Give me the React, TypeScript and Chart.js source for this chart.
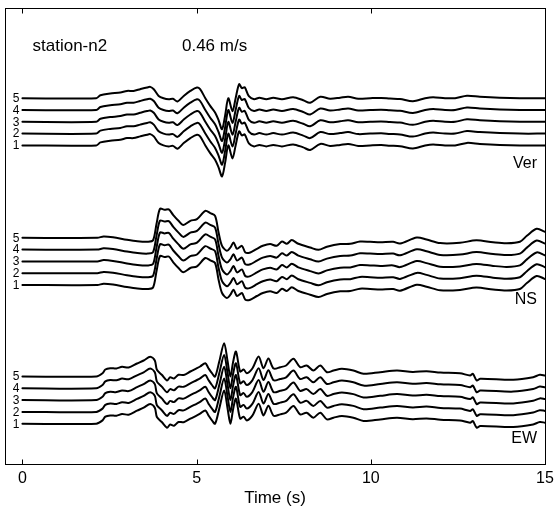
import { useEffect, useRef } from 'react';
import { Chart, registerables } from 'chart.js';

Chart.register(...registerables);

// ---- data ----
const X_TICKS = [0, 5, 10, 15];
const STATIONS = ['1', '2', '3', '4', '5'];
const COMPONENTS = ['Ver', 'NS', 'EW'];
const HEADER_STATION = 'station-n2';
const HEADER_SCALE = '0.46 m/s';
const X_TITLE = 'Time (s)';

// baseline of station 1 for each component, and the spacing between stations (arbitrary amplitude units)
const COMPONENT_BASE = [318.6, 179, 40.3];
const STATION_STEP = 11.8;

// [time (s), amplitude]
const VER_TRACE: [number, number][] = [
  [0, 0], [2.12, 0], [2.24, 3], [2.52, 4.7], [2.81, 5.7], [3.0, 7.3], [3.19, 7.3], [3.38, 9],
  [3.58, 10.7], [3.67, 11.3], [3.77, 9], [3.91, 2.3], [4.05, 0], [4.2, -1], [4.32, -0.5], [4.45, -3.3],
  [4.63, 2.3], [4.82, 7.3], [5.01, 10.7], [5.1, 9], [5.25, 0], [5.39, -7.7], [5.53, -14.3], [5.63, -22],
  [5.73, -31], [5.82, -17], [5.91, 0], [6.03, -13], [6.12, 0], [6.22, 14], [6.3, 10], [6.38, 11],
  [6.5, 2], [6.65, -1], [6.8, 0.5], [7.0, -1], [7.2, 0.5], [7.45, -1], [7.77, 1], [8.06, -2],
  [8.26, -4.5], [8.55, 1.5], [8.83, -0.5], [9.12, 0.5], [9.35, 1.5], [9.64, -0.5], [9.98, 0], [10.3, 0.3],
  [10.55, -0.3], [10.84, -0.8], [11.21, -3], [11.56, 0], [11.79, 1], [12.13, 0], [12.42, 0], [12.76, 2.5],
  [13.13, 1.5], [13.7, 0.5], [14.28, 0], [15, 0],
];

const NS_TRACE: [number, number][] = [
  [0, 0], [2.15, 0], [2.33, 1.3], [2.6, 0.5], [3.0, -2], [3.3, -3.5], [3.6, -4], [3.75, -2.5],
  [3.85, 14], [3.95, 29], [4.08, 28], [4.2, 28.5], [4.33, 22.7], [4.48, 17], [4.62, 12.7], [4.82, 17],
  [5.01, 18.7], [5.25, 27], [5.39, 24.7], [5.53, 22], [5.63, 5.3], [5.73, -8], [5.87, -13], [5.97, -9.7],
  [6.06, -4.7], [6.16, -11], [6.3, -8], [6.4, -14.7], [6.54, -14.7], [6.73, -11], [6.9, -8], [7.11, -6.3],
  [7.3, -8], [7.45, -3.7], [7.59, -6], [7.73, -2.3], [7.92, -6], [8.26, -9.7], [8.5, -12], [8.74, -9],
  [9.12, -6.3], [9.41, -6], [9.69, -3.7], [9.98, -4], [10.27, -4.5], [10.64, -4], [10.84, -5.7], [11.32, 0.3],
  [11.6, -1.7], [11.99, -5.3], [12.56, -5], [13.03, -2.5], [13.51, -4.5], [13.9, -5.5], [14.28, -4],
  [14.48, 2], [14.76, 9], [15, 6],
];

const EW_TRACE: [number, number][] = [
  [0, 0], [2.12, 0], [2.3, 3.3], [2.38, 7], [2.52, 8.3], [2.7, 8], [2.86, 9.7], [3.05, 9],
  [3.29, 13], [3.48, 16], [3.67, 19.7], [3.8, 16], [3.86, 6.7], [4.0, 1.7], [4.15, -4], [4.24, -0.8],
  [4.35, -2], [4.48, 1.7], [4.63, 1.5], [4.82, 5], [5.01, 8.3], [5.1, 10], [5.25, 13.3], [5.34, 8.3],
  [5.44, 3.3], [5.53, 0], [5.65, 15], [5.79, 33.3], [5.89, 15], [5.97, 0], [6.05, 15], [6.13, 25],
  [6.25, 5], [6.35, 7], [6.44, 3.3], [6.6, 8], [6.78, 20], [6.92, 8.3], [7.06, 18], [7.21, 8],
  [7.4, 9.3], [7.57, 11], [7.78, 17.7], [7.97, 9.3], [8.16, 11], [8.35, 6], [8.55, 11], [8.74, 4.3],
  [8.93, 6], [9.17, 7.7], [9.5, 6], [9.79, 2.7], [10.27, 4.3], [10.75, 6], [11.2, 4.5], [11.6, 5.3],
  [12.0, 4], [12.56, 3.3], [12.85, 1], [12.93, 2.7], [13.04, -4], [13.14, -2.3], [14.09, -3.3], [14.66, -0.7],
  [14.85, 1.7], [15, 1],
];

const TRACES = [VER_TRACE, NS_TRACE, EW_TRACE];

// annotation anchors in data units
const HEADER_Y = 418;
const HEADER_STATION_T = 0.29;
const HEADER_SCALE_T = 4.58;
const COMPONENT_LABEL_T = 14.77;
const COMPONENT_LABEL_Y = [300, 164, 25];

const FONT = '"Liberation Sans", Arial, Helvetica, sans-serif';

export default function App() {
  const ref = useRef<HTMLCanvasElement>(null);

  useEffect(() => {
    if (!ref.current) return;
    const datasets: any[] = [];
    COMPONENTS.forEach((comp, ci) => {
      STATIONS.forEach((st, si) => {
        const base = COMPONENT_BASE[ci] + si * STATION_STEP;
        datasets.push({
          label: comp + '-' + st,
          data: TRACES[ci].map(([t, a]) => ({ x: t, y: base + a })),
          borderColor: '#000',
          borderWidth: 2,
          pointRadius: 0,
          tension: 0.3,
          borderJoinStyle: 'round',
          borderCapStyle: 'round',
          fill: false,
        });
      });
    });

    const decor = {
      id: 'decor',
      beforeDraw(chart: any) {
        const { ctx } = chart;
        ctx.save();
        ctx.fillStyle = '#fff';
        ctx.fillRect(0, 0, chart.width, chart.height);
        ctx.restore();
      },
      afterDraw(chart: any) {
        const { ctx, chartArea } = chart;
        const xs = chart.scales.x;
        const ys = chart.scales.y;
        ctx.save();
        // frame
        ctx.strokeStyle = '#000';
        ctx.lineWidth = 1;
        const L = Math.round(chartArea.left) + 0.5;
        const R = Math.round(chartArea.right) + 0.5;
        const T = Math.round(chartArea.top) + 0.5;
        const B = Math.round(chartArea.bottom) + 0.5;
        ctx.strokeRect(L, T, R - L, B - T);
        // inward ticks
        ctx.beginPath();
        X_TICKS.forEach((v) => {
          const px = Math.round(xs.getPixelForValue(v)) + 0.5;
          ctx.moveTo(px, B);
          ctx.lineTo(px, B - 5);
          ctx.moveTo(px, T);
          ctx.lineTo(px, T + 5);
        });
        ctx.stroke();

        ctx.fillStyle = '#000';
        ctx.textBaseline = 'middle';
        // station numbers
        ctx.font = `12px ${FONT}`;
        ctx.textAlign = 'right';
        const x0 = xs.getPixelForValue(0);
        COMPONENTS.forEach((_, ci) => {
          STATIONS.forEach((st, si) => {
            const y = ys.getPixelForValue(COMPONENT_BASE[ci] + si * STATION_STEP);
            ctx.fillText(st, x0 - 3, y + 0.5);
          });
        });
        // component labels
        ctx.font = `16px ${FONT}`;
        ctx.textAlign = 'right';
        COMPONENTS.forEach((comp, ci) => {
          ctx.fillText(comp, xs.getPixelForValue(COMPONENT_LABEL_T), ys.getPixelForValue(COMPONENT_LABEL_Y[ci]));
        });
        // header
        ctx.font = `17px ${FONT}`;
        ctx.textAlign = 'left';
        ctx.fillText(HEADER_STATION, xs.getPixelForValue(HEADER_STATION_T), ys.getPixelForValue(HEADER_Y));
        ctx.fillText(HEADER_SCALE, xs.getPixelForValue(HEADER_SCALE_T), ys.getPixelForValue(HEADER_Y));
        ctx.restore();
      },
    };

    const chart = new Chart(ref.current, {
      type: 'line',
      data: { datasets },
      options: {
        responsive: false,
        animation: false,
        devicePixelRatio: 1,
        layout: { padding: { left: 5, right: 14, top: 8, bottom: 0 } },
        plugins: { legend: { display: false }, tooltip: { enabled: false } },
        scales: {
          x: {
            type: 'linear',
            position: 'bottom',
            min: -0.5,
            max: 15,
            grid: { display: false, drawTicks: false },
            border: { display: false },
            afterBuildTicks: (s: any) => {
              s.ticks = X_TICKS.map((v) => ({ value: v }));
            },
            afterFit: (s: any) => {
              s.height = 52;
            },
            ticks: {
              color: '#000',
              font: { family: FONT, size: 16 },
              padding: 5,
              maxRotation: 0,
              autoSkip: false,
            },
            title: {
              display: true,
              text: X_TITLE,
              color: '#000',
              font: { family: FONT, size: 17 },
              padding: { top: 0, bottom: 7 },
            },
          },
          y: { display: false, min: 0, max: 456 },
        },
      } as any,
      plugins: [decor],
    });
    return () => chart.destroy();
  }, []);

  return (
    <div style={{ position: 'fixed', left: 0, top: 0, width: 559, height: 516, background: '#fff' }}>
      <canvas ref={ref} width={559} height={516} style={{ display: 'block' }} />
    </div>
  );
}
